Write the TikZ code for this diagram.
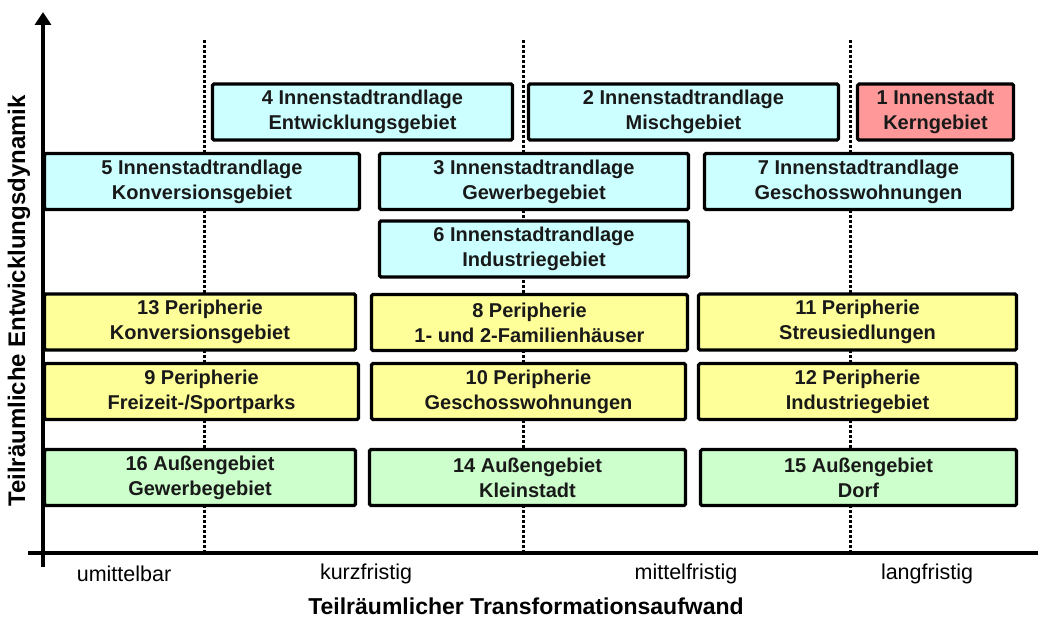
\documentclass[tikz,border=0pt]{standalone}
\usepackage{fontspec}
\setmainfont{Liberation Sans}
\usetikzlibrary{arrows.meta}

\definecolor{innen}{HTML}{CCFFFF}
\definecolor{kern}{HTML}{FF9999}
\definecolor{peri}{HTML}{FFFF99}
\definecolor{aussen}{HTML}{CCFFCC}

\begin{document}
\begin{tikzpicture}[x=1pt, y=-1pt,
	feld/.style={draw, line width=3.2pt, rounded corners=1.5pt, inner sep=0pt, align=center,
		minimum height=56pt, font=\bfseries\fontsize{20}{25}\selectfont, text=black!90},
	frist/.style={font=\fontsize{21.5}{24}\selectfont},
	grenze/.style={line width=3pt, dash pattern=on 3pt off 2pt}]
	\useasboundingbox (0,0) rectangle (1038,618);

	\draw[grenze] (204,40) -- (204,553);
	\draw[grenze] (523,40) -- (523,553);
	\draw[grenze] (850,40) -- (850,553);

	\node[feld, fill=innen, minimum width=300pt] (b4) at (362.5,112) {4 Innenstadtrandlage\\Entwicklungsgebiet};
	\node[feld, fill=innen, minimum width=310pt] (b2) at (683.5,112) {2 Innenstadtrandlage\\Mischgebiet};
	\node[feld, fill=kern, minimum width=156pt] (b1) at (935.5,112) {1 Innenstadt\\Kerngebiet};
	\node[feld, fill=innen, minimum width=315pt] (b5) at (202,181.5) {5 Innenstadtrandlage\\Konversionsgebiet};
	\node[feld, fill=innen, minimum width=309pt] (b3) at (534,181.5) {3 Innenstadtrandlage\\Gewerbegebiet};
	\node[feld, fill=innen, minimum width=308pt] (b7) at (858.5,181.5) {7 Innenstadtrandlage\\Geschosswohnungen};
	\node[feld, fill=innen, minimum width=309pt] (b6) at (534,249) {6 Innenstadtrandlage\\Industriegebiet};

	\node[feld, fill=peri, minimum width=311pt] (b13) at (200,322) {13 Peripherie\\Konversionsgebiet};
	\node[feld, fill=peri, minimum width=316pt] (b8) at (529.5,322.5) {8 Peripherie\\1- und 2-Familienhäuser};
	\node[feld, fill=peri, minimum width=318pt] (b11) at (857.5,322) {11 Peripherie\\Streusiedlungen};
	\node[feld, fill=peri, minimum width=314pt] (b9) at (201.5,391.5) {9 Peripherie\\Freizeit-/Sportparks};
	\node[feld, fill=peri, minimum width=314pt] (b10) at (528.5,391.5) {10 Peripherie\\Geschosswohnungen};
	\node[feld, fill=peri, minimum width=318pt] (b12) at (857.5,391.5) {12 Peripherie\\Industriegebiet};

	\node[feld, fill=aussen, minimum width=311pt] (b16) at (200,477.5) {16 Außengebiet\\Gewerbegebiet};
	\node[feld, fill=aussen, minimum width=316pt] (b14) at (527.5,477.5) {14 Außengebiet\\Kleinstadt};
	\node[feld, fill=aussen, minimum width=316pt] (b15) at (858.5,477.5) {15 Außengebiet\\Dorf};

	\draw[line width=4.5pt, -{Triangle[width=16pt, length=13pt]}] (43,567) -- (43,12);
	\draw[line width=4.5pt] (28,553) -- (1038,553);

	\node[frist] (t1) at (124,574) {umittelbar};
	\node[frist] (t2) at (366,574) {kurzfristig};
	\node[frist] (t3) at (686,574) {mittelfristig};
	\node[frist] (t4) at (927,574) {langfristig};

	\node[font=\bfseries\fontsize{23}{26}\selectfont] (xlab) at (526,606) {Teilräumlicher Transformationsaufwand};
	\node[font=\bfseries\fontsize{24}{26}\selectfont, rotate=90] (ylab) at (19,301) {Teilräumliche Entwicklungsdynamik};
\end{tikzpicture}
\end{document}
